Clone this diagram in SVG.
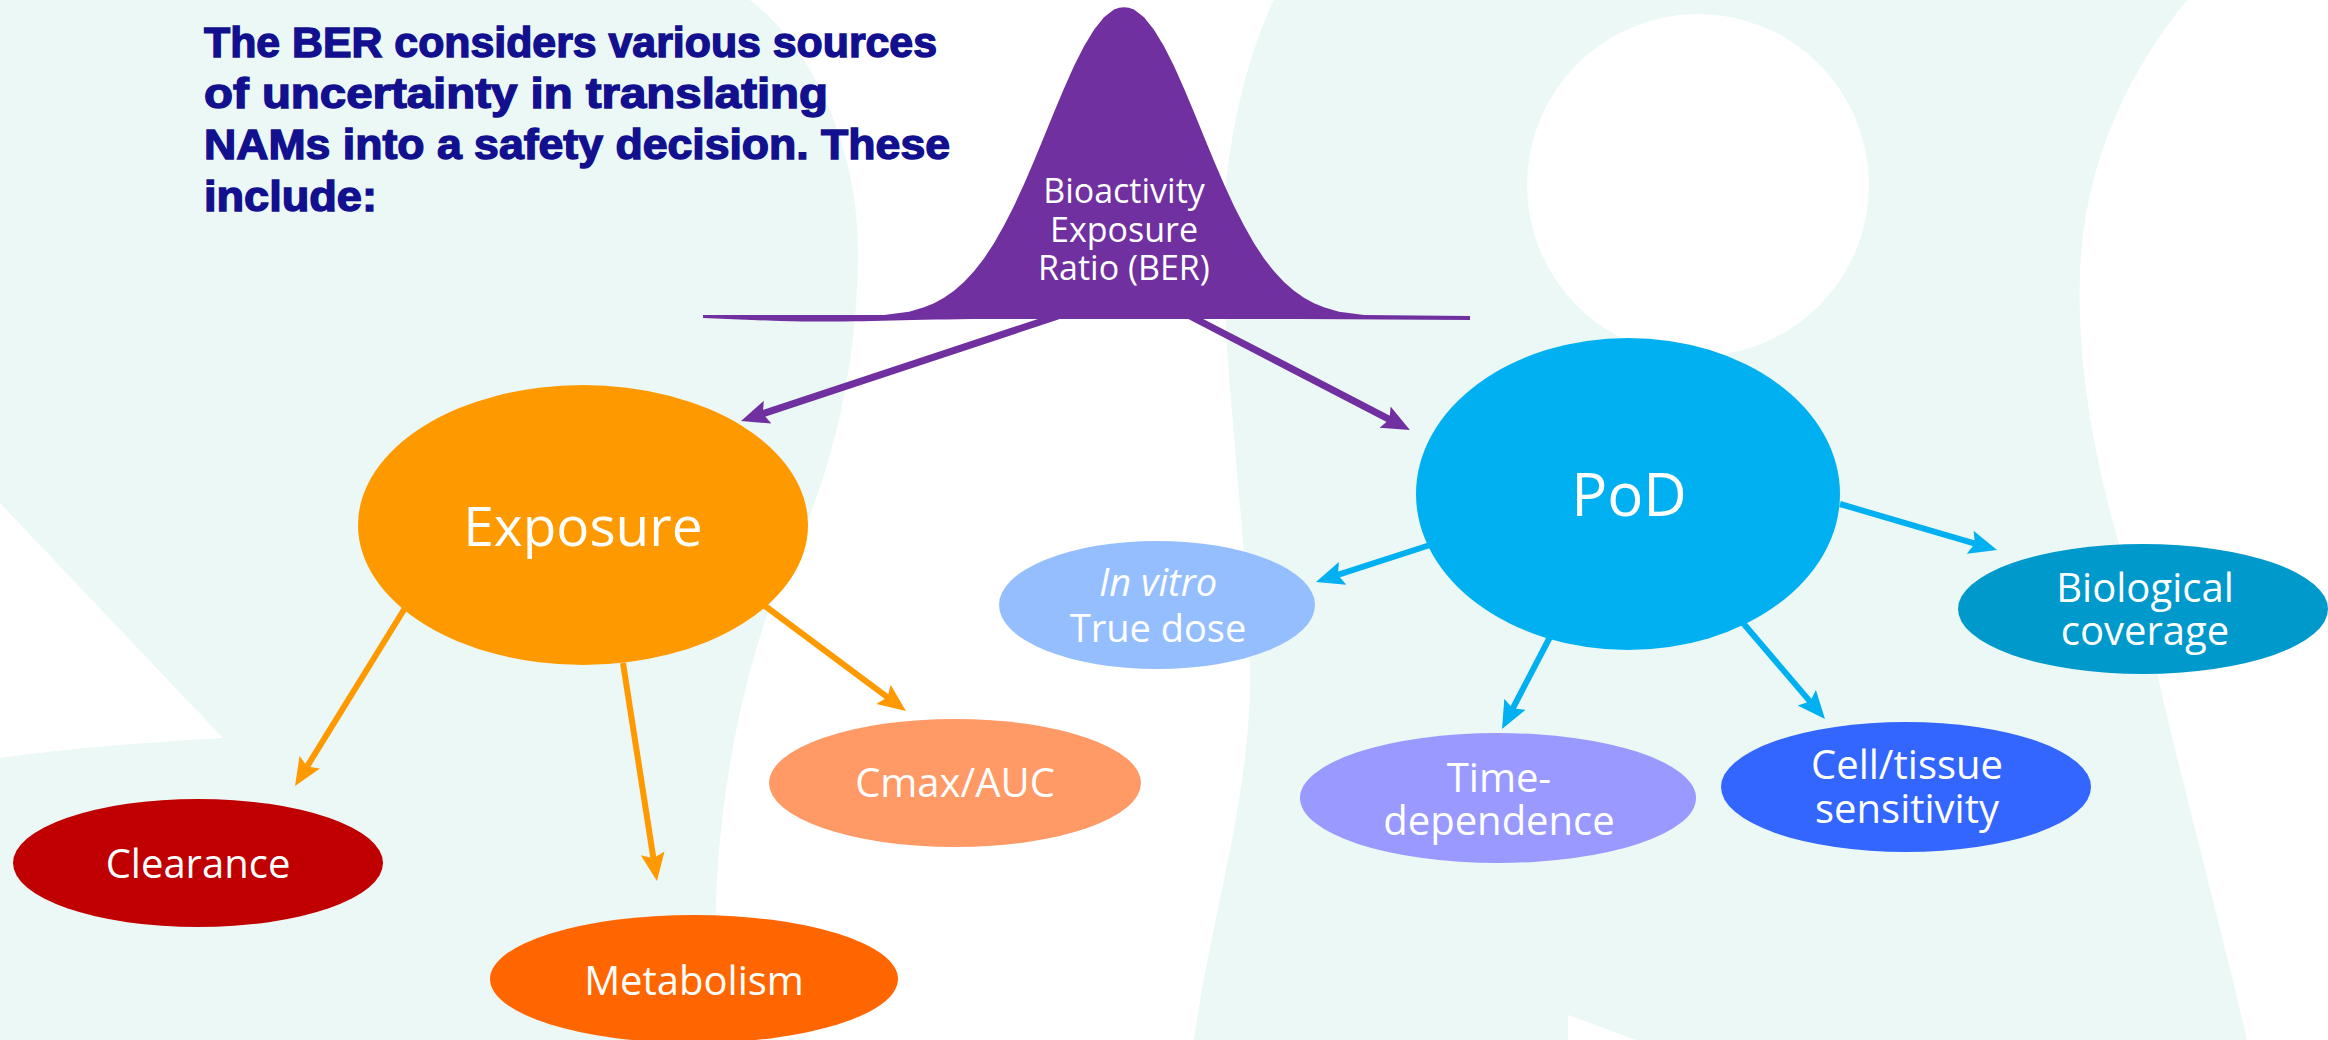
<svg xmlns="http://www.w3.org/2000/svg" width="2328" height="1040" viewBox="0 0 2328 1040">
  <style>
    .mint { fill: #EBF8F5; }
    .bgwhite { fill: #FFFFFF; }
    .title { font-family: "Liberation Sans", Arial, sans-serif; font-weight: bold; font-size: 42px; fill: #12108F; stroke: #12108F; stroke-width: 1.4px; }
    .lbl { font-family: "Open Sans", "Noto Sans", sans-serif; fill: #FFFFFF; text-anchor: middle; font-size: 40px; }
    .bell { font-family: "Open Sans", "Noto Sans", sans-serif; fill: #FFFFFF; text-anchor: middle; font-size: 34px; }
    .c-purple { stroke: #7030A0; stroke-width: 7; fill: none; }
    .c-orange { stroke: #FF9900; stroke-width: 6; fill: none; }
    .c-blue { stroke: #00B0F0; stroke-width: 6; fill: none; }
  </style>
  <defs>
    <marker id="ah-purple" viewBox="0 0 28 26" refX="14" refY="13" markerWidth="28" markerHeight="26" markerUnits="userSpaceOnUse" orient="auto">
      <path d="M0,1 L28,13 L0,25 L5,13 Z" fill="#7030A0"/>
    </marker>
    <marker id="ah-orange" viewBox="0 0 28 26" refX="14" refY="13" markerWidth="28" markerHeight="26" markerUnits="userSpaceOnUse" orient="auto">
      <path d="M0,1 L28,13 L0,25 L5,13 Z" fill="#FF9900"/>
    </marker>
    <marker id="ah-blue" viewBox="0 0 28 26" refX="14" refY="13" markerWidth="28" markerHeight="26" markerUnits="userSpaceOnUse" orient="auto">
      <path d="M0,1 L28,13 L0,25 L5,13 Z" fill="#00B0F0"/>
    </marker>
  </defs>

  <g id="background">
    <rect x="0" y="0" width="2328" height="1040" fill="#FFFFFF"/>
    <path class="mint" d="M0,0 L750,0 C815,50 858,150 858,250 C858,370 830,480 790,560 C750,640 720,780 716,900 L713,1040 L0,1040 Z"/>
    <path class="mint" d="M1274,0 C1240,70 1222,170 1223,250 C1224,380 1250,560 1250,680 C1250,800 1210,920 1194,1040 L2247,1040 C2215,900 2175,760 2150,640 C2100,500 2076,380 2080,270 C2085,160 2130,70 2187,0 Z"/>
    <circle class="bgwhite" cx="1698" cy="185" r="171"/>
    <path class="bgwhite" d="M0,503 L223,738 C150,742 70,748 0,758 Z"/>
    <path class="bgwhite" d="M1568,1015 L1636,1040 L1568,1040 Z"/>
  </g>

  <g id="title">
    <text class="title" x="204" y="57" textLength="733" lengthAdjust="spacingAndGlyphs">The BER considers various sources</text>
    <text class="title" x="204" y="108" textLength="624" lengthAdjust="spacingAndGlyphs">of uncertainty in translating</text>
    <text class="title" x="204" y="159" textLength="746" lengthAdjust="spacingAndGlyphs">NAMs into a safety decision. These</text>
    <text class="title" x="204" y="211" textLength="173" lengthAdjust="spacingAndGlyphs">include:</text>
  </g>

  <g id="connectors">
    <line class="c-purple" x1="1058" y1="316" x2="754.3" y2="416.6" marker-end="url(#ah-purple)"/>
    <line class="c-purple" x1="1190" y1="316" x2="1397.5" y2="423.6" marker-end="url(#ah-purple)"/>
    <line class="c-orange" x1="405" y1="608" x2="302.4" y2="774.1" marker-end="url(#ah-orange)"/>
    <line class="c-orange" x1="623" y1="663" x2="654.8" y2="867.2" marker-end="url(#ah-orange)"/>
    <line class="c-orange" x1="765" y1="606" x2="894.7" y2="702.7" marker-end="url(#ah-orange)"/>
    <line class="c-blue" x1="1430" y1="545" x2="1329.3" y2="577.7" marker-end="url(#ah-blue)"/>
    <line class="c-blue" x1="1840" y1="504" x2="1983.6" y2="546.1" marker-end="url(#ah-blue)"/>
    <line class="c-blue" x1="1550" y1="637" x2="1508.5" y2="716.6" marker-end="url(#ah-blue)"/>
    <line class="c-blue" x1="1743" y1="623" x2="1815.9" y2="708.4" marker-end="url(#ah-blue)"/>
  </g>

  <g id="node-ber">
    <path fill="#7030A0" d="M703,315 L884,315 L909,311.7 L924,307.3 L934,303.2 L944,297.8 L954,290.8 L964,282.1 L974,271.3 L984,258.4 L994,243.2 L1004,225.6 L1014,205.9 L1024,184.2 L1034,160.9 L1044,136.7 L1054,112.3 L1064,88.5 L1074,66.1 L1084,46.2 L1094,29.7 L1104,17.3 L1114,9.6 Q1124,5 1134,9.6 L1144,17.3 L1154,29.7 L1164,46.2 L1174,66.1 L1184,88.5 L1194,112.3 L1204,136.7 L1214,160.9 L1224,184.2 L1234,205.9 L1244,225.6 L1254,243.2 L1264,258.4 L1274,271.3 L1284,282.1 L1294,290.8 L1304,297.8 L1314,303.2 L1324,307.3 L1339,311.7 L1364,315 L1470,316 L1470,320 L1300,319 L1000,319 C900,319 860,323 780,321 L703,318 Z"/>
    <text class="bell" x="1124" y="203">Bioactivity</text>
    <text class="bell" x="1124" y="242">Exposure</text>
    <text class="bell" x="1124" y="280">Ratio (BER)</text>
  </g>

  <g id="node-exposure">
    <ellipse cx="583" cy="525" rx="225" ry="140" fill="#FF9900"/>
    <text class="lbl" x="583" y="546" style="font-size:55px">Exposure</text>
  </g>

  <g id="node-pod">
    <ellipse cx="1628" cy="494" rx="212" ry="156" fill="#00B0F0"/>
    <text class="lbl" x="1629" y="516" style="font-size:60px">PoD</text>
  </g>

  <g id="node-clearance">
    <ellipse cx="198" cy="863" rx="185" ry="64" fill="#C00000"/>
    <text class="lbl" x="198" y="878">Clearance</text>
  </g>

  <g id="node-metabolism">
    <ellipse cx="694" cy="979" rx="204" ry="64" fill="#FF6600"/>
    <text class="lbl" x="694" y="995">Metabolism</text>
  </g>

  <g id="node-cmax">
    <ellipse cx="955" cy="783" rx="186" ry="64" fill="#FF9966"/>
    <text class="lbl" x="955" y="797">Cmax/AUC</text>
  </g>

  <g id="node-invitro">
    <ellipse cx="1157" cy="605" rx="158" ry="64" fill="#95BEFF"/>
    <text class="lbl" x="1158" y="596" style="font-size:38px;font-style:italic">In vitro</text>
    <text class="lbl" x="1158" y="642" style="font-size:38px">True dose</text>
  </g>

  <g id="node-biological">
    <ellipse cx="2143" cy="609" rx="185" ry="65" fill="#0099CC"/>
    <text class="lbl" x="2145" y="602">Biological</text>
    <text class="lbl" x="2145" y="645">coverage</text>
  </g>

  <g id="node-time">
    <ellipse cx="1498" cy="798" rx="198" ry="65" fill="#9999FF"/>
    <text class="lbl" x="1499" y="792">Time-</text>
    <text class="lbl" x="1499" y="835">dependence</text>
  </g>

  <g id="node-cell">
    <ellipse cx="1906" cy="787" rx="185" ry="65" fill="#3366FF"/>
    <text class="lbl" x="1907" y="779">Cell/tissue</text>
    <text class="lbl" x="1907" y="823">sensitivity</text>
  </g>
</svg>
